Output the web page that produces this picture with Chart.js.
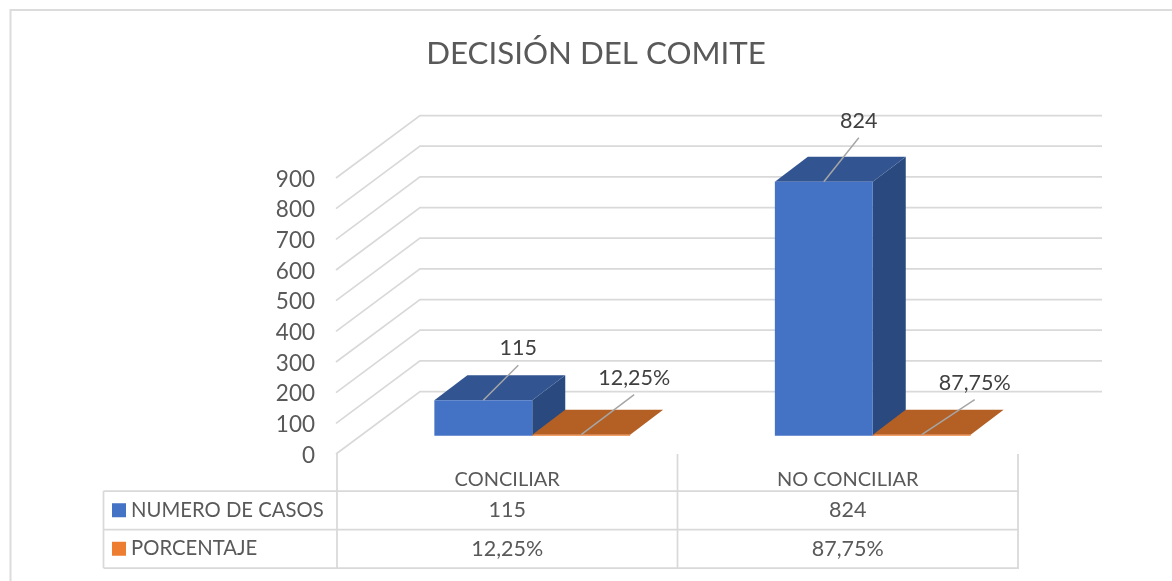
<!DOCTYPE html>
<html lang="es">
<head>
<meta charset="utf-8">
<style>html,body{margin:0;padding:0;background:#fff;overflow:hidden}canvas{display:block}</style>
<script src="https://cdn.jsdelivr.net/npm/chart.js@4/dist/chart.umd.min.js"></script>
</head>
<body>
<canvas id="c" width="1172" height="581"></canvas>
<script>
const titulo = 'DECISIÓN DEL COMITE';
const categorias = ['CONCILIAR', 'NO CONCILIAR'];
const nombreCasos = 'NUMERO DE CASOS';
const nombrePorcentaje = 'PORCENTAJE';
const numeroCasos = [115, 824];
const porcentaje = [0.1225, 0.8775];
const etiquetasPorcentaje = ['12,25%', '87,75%'];
const marcasY = [0, 100, 200, 300, 400, 500, 600, 700, 800, 900];

const FONT = 'Lato, Carlito, sans-serif';
const GRID = '#d9d9d9', TXT = '#595959', LBL = '#404040', LEAD = '#a6a6a6';
const AZUL = '#4472c4', NARANJA = '#ed7d31';
const DEPTH = {dx: 33, dy: 25};
const BACK = {dx: 84, dy: 62.5, right: 1102};
const BAR_SHIFT = 25;
const leaderOffsets = [[[35, -35], [35, -44]], [[53, -40], [53, -35]]];
const TABLE = {left: 103.5, rowTops: [491, 529.5, 568], sq: 14, sqX: 112, textX: 131};

function poly(ctx, pts, color) {
  ctx.fillStyle = color;
  ctx.beginPath();
  pts.forEach((p, i) => i ? ctx.lineTo(p[0], p[1]) : ctx.moveTo(p[0], p[1]));
  ctx.closePath();
  ctx.fill();
}

const walls = {
  id: 'walls',
  beforeDatasetsDraw(chart) {
    const {ctx, chartArea: a} = chart, y = chart.scales.y;
    ctx.save();
    ctx.strokeStyle = '#dcdcdc';
    ctx.lineWidth = 2;
    ctx.beginPath(); ctx.moveTo(10.5, 581); ctx.lineTo(10.5, 10); ctx.lineTo(1172, 10); ctx.stroke();
    ctx.strokeStyle = GRID;
    ctx.lineWidth = 1.75;
    marcasY.forEach(v => {
      const py = y.getPixelForValue(v);
      ctx.beginPath();
      ctx.moveTo(a.left - 1, py);
      ctx.lineTo(a.left - 1 + BACK.dx, py - BACK.dy);
      ctx.lineTo(BACK.right, py - BACK.dy);
      ctx.stroke();
    });
    ctx.restore();
    ctx.save();
    ctx.translate(BAR_SHIFT, 0);
    const topColors = ['#325591', '#b45f23'], sideColors = ['#2a4a7f', '#a0521d'];
    chart.data.datasets.forEach((ds, di) => {
      chart.getDatasetMeta(di).data.forEach(b => {
        const l = b.x - b.width / 2, r = b.x + b.width / 2, t = b.y, bot = b.base;
        if (bot - t > 2) poly(ctx, [[r, t], [r + DEPTH.dx, t - DEPTH.dy], [r + DEPTH.dx, bot - DEPTH.dy], [r, bot]], sideColors[di]);
        poly(ctx, [[l, t], [l + DEPTH.dx, t - DEPTH.dy], [r + DEPTH.dx, t - DEPTH.dy], [r, t]], topColors[di]);
      });
    });
    ctx.restore();
    ctx.save();
    ctx.translate(BAR_SHIFT, 0);
  },
  afterDatasetsDraw(chart) {
    const {ctx, chartArea: a} = chart;
    ctx.restore();
    ctx.save();
    const texts = [numeroCasos.map(String), etiquetasPorcentaje];
    chart.data.datasets.forEach((ds, di) => {
      chart.getDatasetMeta(di).data.forEach((b, i) => {
        const x = b.x + BAR_SHIFT, y0 = b.y, o = leaderOffsets[di][i];
        ctx.strokeStyle = LEAD;
        ctx.lineWidth = 1.5;
        ctx.beginPath(); ctx.moveTo(x, y0); ctx.lineTo(x + o[0], y0 + o[1]); ctx.stroke();
        ctx.fillStyle = LBL;
        ctx.font = '21.5px ' + FONT;
        ctx.textAlign = 'center';
        ctx.textBaseline = 'middle';
        ctx.fillText(texts[di][i], x + o[0], y0 + o[1] - 17);
      });
    });
    const xs = chart.scales.x;
    const cols = [a.left, xs.getPixelForValue(0) * 2 - a.left, a.right];
    ctx.strokeStyle = GRID;
    ctx.lineWidth = 1.75;
    ctx.beginPath();
    TABLE.rowTops.forEach(ty => { ctx.moveTo(TABLE.left, ty); ctx.lineTo(a.right + 1, ty); });
    ctx.moveTo(TABLE.left, TABLE.rowTops[0]); ctx.lineTo(TABLE.left, TABLE.rowTops[2]);
    cols.forEach(cx => { ctx.moveTo(cx, a.bottom); ctx.lineTo(cx, TABLE.rowTops[2]); });
    ctx.stroke();
    const rows = [
      {name: nombreCasos, color: AZUL, vals: numeroCasos.map(String)},
      {name: nombrePorcentaje, color: NARANJA, vals: etiquetasPorcentaje}
    ];
    ctx.textBaseline = 'middle';
    rows.forEach((r, ri) => {
      const cy = (TABLE.rowTops[ri] + TABLE.rowTops[ri + 1]) / 2;
      ctx.fillStyle = r.color;
      ctx.fillRect(TABLE.sqX, cy - TABLE.sq / 2, TABLE.sq, TABLE.sq);
      ctx.fillStyle = TXT;
      ctx.textAlign = 'left';
      ctx.font = '20.3px ' + FONT;
      ctx.fillText(r.name, TABLE.textX, cy);
      ctx.textAlign = 'center';
      ctx.font = '21.5px ' + FONT;
      r.vals.forEach((v, i) => ctx.fillText(v, xs.getPixelForValue(i), cy));
    });
    ctx.restore();
  }
};

new Chart(document.getElementById('c'), {
  type: 'bar',
  data: {
    labels: categorias,
    datasets: [
      {label: nombreCasos, data: numeroCasos, backgroundColor: AZUL, yAxisID: 'yBar', borderWidth: 0},
      {label: nombrePorcentaje, data: porcentaje, backgroundColor: NARANJA, yAxisID: 'yBar', borderWidth: 0, minBarLength: 1}
    ]
  },
  plugins: [walls],
  options: {
    responsive: false,
    animation: false,
    devicePixelRatio: 1,
    layout: {padding: {left: 20, right: 0, top: 0, bottom: 0}},
    datasets: {bar: {categoryPercentage: 0.575, barPercentage: 1}},
    plugins: {
      legend: {display: false},
      tooltip: {enabled: false},
      title: {
        display: true,
        text: titulo,
        color: TXT,
        font: {family: FONT, size: 31.3, weight: 'normal', lineHeight: 1.2},
        padding: {top: 35, bottom: 178 - 35 - 37.56}
      }
    },
    scales: {
      x: {
        grid: {display: false},
        border: {display: false},
        ticks: {color: TXT, font: {family: FONT, size: 20}, padding: 6, maxRotation: 0},
        afterFit(s) { s.height = 127; }
      },
      y: {
        position: 'left',
        min: 0, max: 900,
        grid: {display: false},
        border: {display: false},
        afterBuildTicks(s) { s.ticks = marcasY.map(v => ({value: v})); },
        ticks: {color: TXT, font: {family: FONT, size: 22.5}, padding: 14, labelOffset: 1.5},
        afterFit(s) { s.width = 317; }
      },
      yBar: {
        position: 'right',
        min: -59.4, max: 836,
        grid: {display: false},
        border: {display: false},
        ticks: {display: false},
        afterFit(s) { s.width = 154; }
      }
    }
  }
});
</script>
</body>
</html>
